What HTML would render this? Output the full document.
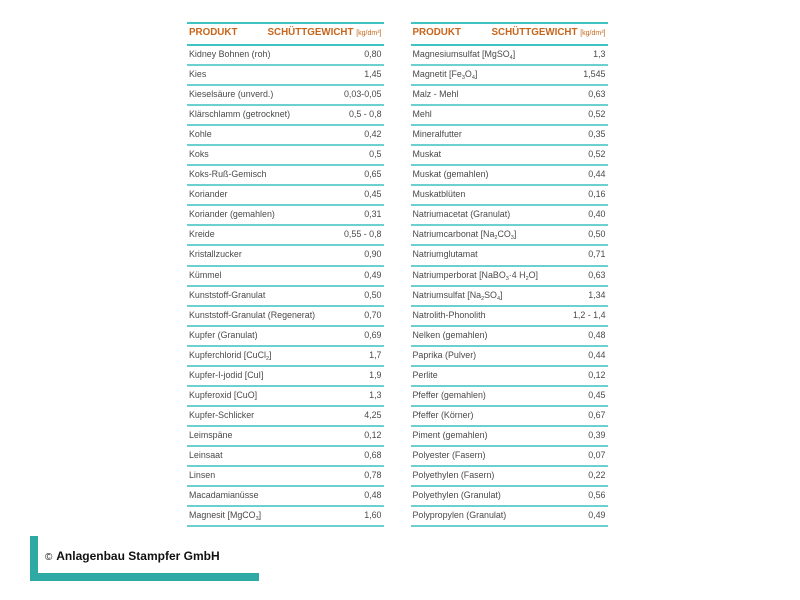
<!DOCTYPE html>
<html>
<head>
<meta charset="utf-8">
<style>
  html, body { margin:0; padding:0; background:#fff; }
  body { width:800px; height:600px; position:relative; overflow:hidden; font-family:"Liberation Sans", Arial, sans-serif; }
  .tbl { position:absolute; top:21.5px; }
  .hdr { box-sizing:border-box; height:24.5px; border-top:2px solid #3fc3c3; border-bottom:2px solid #3fc3c3; position:relative; }
  .hdr .p { position:absolute; left:2px; top:3.5px; font-size:9.8px; font-weight:bold; color:#c8651a; line-height:12px; }
  .hdr .s { position:absolute; right:2px; top:3.5px; font-size:9.8px; font-weight:bold; color:#c8651a; line-height:12px; white-space:nowrap; }
  .hdr .s small { font-size:7px; font-weight:normal; }
  .row { box-sizing:border-box; height:20.05px; border-bottom:2px solid #6dd0d0; position:relative; font-size:8.9px; color:#4a4a4a; line-height:17.5px; }
  .row .n { position:absolute; left:2px; top:0; white-space:nowrap; }
  .row .v { position:absolute; right:2px; top:0; white-space:nowrap; }
  sub { font-size:5.5px; vertical-align:-2px; line-height:0; }
  .bar1 { position:absolute; left:30px; top:536px; width:8px; height:45px; background:#2ea9a4; }
  .bar2 { position:absolute; left:30px; top:573px; width:229px; height:8px; background:#2ea9a4; }
  .copy { position:absolute; left:45px; top:549px; font-size:12px; font-weight:bold; color:#111; white-space:nowrap; line-height:15px; }
  .copy span { font-size:10px; font-weight:normal; margin-right:1px; }
</style>
</head>
<body>

<div class="tbl" style="left:187px; width:196.5px;">
  <div class="hdr"><div class="p">PRODUKT</div><div class="s">SCHÜTTGEWICHT <small>[kg/dm³]</small></div></div>
  <div class="row"><span class="n">Kidney Bohnen (roh)</span><span class="v">0,80</span></div>
  <div class="row"><span class="n">Kies</span><span class="v">1,45</span></div>
  <div class="row"><span class="n">Kieselsäure (unverd.)</span><span class="v">0,03-0,05</span></div>
  <div class="row"><span class="n">Klärschlamm (getrocknet)</span><span class="v">0,5 - 0,8</span></div>
  <div class="row"><span class="n">Kohle</span><span class="v">0,42</span></div>
  <div class="row"><span class="n">Koks</span><span class="v">0,5</span></div>
  <div class="row"><span class="n">Koks-Ruß-Gemisch</span><span class="v">0,65</span></div>
  <div class="row"><span class="n">Koriander</span><span class="v">0,45</span></div>
  <div class="row"><span class="n">Koriander (gemahlen)</span><span class="v">0,31</span></div>
  <div class="row"><span class="n">Kreide</span><span class="v">0,55 - 0,8</span></div>
  <div class="row"><span class="n">Kristallzucker</span><span class="v">0,90</span></div>
  <div class="row"><span class="n">Kümmel</span><span class="v">0,49</span></div>
  <div class="row"><span class="n">Kunststoff-Granulat</span><span class="v">0,50</span></div>
  <div class="row"><span class="n">Kunststoff-Granulat (Regenerat)</span><span class="v">0,70</span></div>
  <div class="row"><span class="n">Kupfer (Granulat)</span><span class="v">0,69</span></div>
  <div class="row"><span class="n">Kupferchlorid [CuCl<sub>2</sub>]</span><span class="v">1,7</span></div>
  <div class="row"><span class="n">Kupfer-I-jodid [CuI]</span><span class="v">1,9</span></div>
  <div class="row"><span class="n">Kupferoxid [CuO]</span><span class="v">1,3</span></div>
  <div class="row"><span class="n">Kupfer-Schlicker</span><span class="v">4,25</span></div>
  <div class="row"><span class="n">Leimspäne</span><span class="v">0,12</span></div>
  <div class="row"><span class="n">Leinsaat</span><span class="v">0,68</span></div>
  <div class="row"><span class="n">Linsen</span><span class="v">0,78</span></div>
  <div class="row"><span class="n">Macadamianüsse</span><span class="v">0,48</span></div>
  <div class="row"><span class="n">Magnesit [MgCO<sub>3</sub>]</span><span class="v">1,60</span></div>
</div>

<div class="tbl" style="left:410.5px; width:197px;">
  <div class="hdr"><div class="p">PRODUKT</div><div class="s">SCHÜTTGEWICHT <small>[kg/dm³]</small></div></div>
  <div class="row"><span class="n">Magnesiumsulfat [MgSO<sub>4</sub>]</span><span class="v">1,3</span></div>
  <div class="row"><span class="n">Magnetit [Fe<sub>3</sub>O<sub>4</sub>]</span><span class="v">1,545</span></div>
  <div class="row"><span class="n">Malz - Mehl</span><span class="v">0,63</span></div>
  <div class="row"><span class="n">Mehl</span><span class="v">0,52</span></div>
  <div class="row"><span class="n">Mineralfutter</span><span class="v">0,35</span></div>
  <div class="row"><span class="n">Muskat</span><span class="v">0,52</span></div>
  <div class="row"><span class="n">Muskat (gemahlen)</span><span class="v">0,44</span></div>
  <div class="row"><span class="n">Muskatblüten</span><span class="v">0,16</span></div>
  <div class="row"><span class="n">Natriumacetat (Granulat)</span><span class="v">0,40</span></div>
  <div class="row"><span class="n">Natriumcarbonat [Na<sub>2</sub>CO<sub>3</sub>]</span><span class="v">0,50</span></div>
  <div class="row"><span class="n">Natriumglutamat</span><span class="v">0,71</span></div>
  <div class="row"><span class="n">Natriumperborat [NaBO<sub>3</sub>·4 H<sub>2</sub>O]</span><span class="v">0,63</span></div>
  <div class="row"><span class="n">Natriumsulfat [Na<sub>2</sub>SO<sub>4</sub>]</span><span class="v">1,34</span></div>
  <div class="row"><span class="n">Natrolith-Phonolith</span><span class="v">1,2 - 1,4</span></div>
  <div class="row"><span class="n">Nelken (gemahlen)</span><span class="v">0,48</span></div>
  <div class="row"><span class="n">Paprika (Pulver)</span><span class="v">0,44</span></div>
  <div class="row"><span class="n">Perlite</span><span class="v">0,12</span></div>
  <div class="row"><span class="n">Pfeffer (gemahlen)</span><span class="v">0,45</span></div>
  <div class="row"><span class="n">Pfeffer (Körner)</span><span class="v">0,67</span></div>
  <div class="row"><span class="n">Piment (gemahlen)</span><span class="v">0,39</span></div>
  <div class="row"><span class="n">Polyester (Fasern)</span><span class="v">0,07</span></div>
  <div class="row"><span class="n">Polyethylen (Fasern)</span><span class="v">0,22</span></div>
  <div class="row"><span class="n">Polyethylen (Granulat)</span><span class="v">0,56</span></div>
  <div class="row"><span class="n">Polypropylen (Granulat)</span><span class="v">0,49</span></div>
</div>

<div class="bar1"></div>
<div class="bar2"></div>
<div class="copy"><span>©</span> Anlagenbau Stampfer GmbH</div>

</body>
</html>
